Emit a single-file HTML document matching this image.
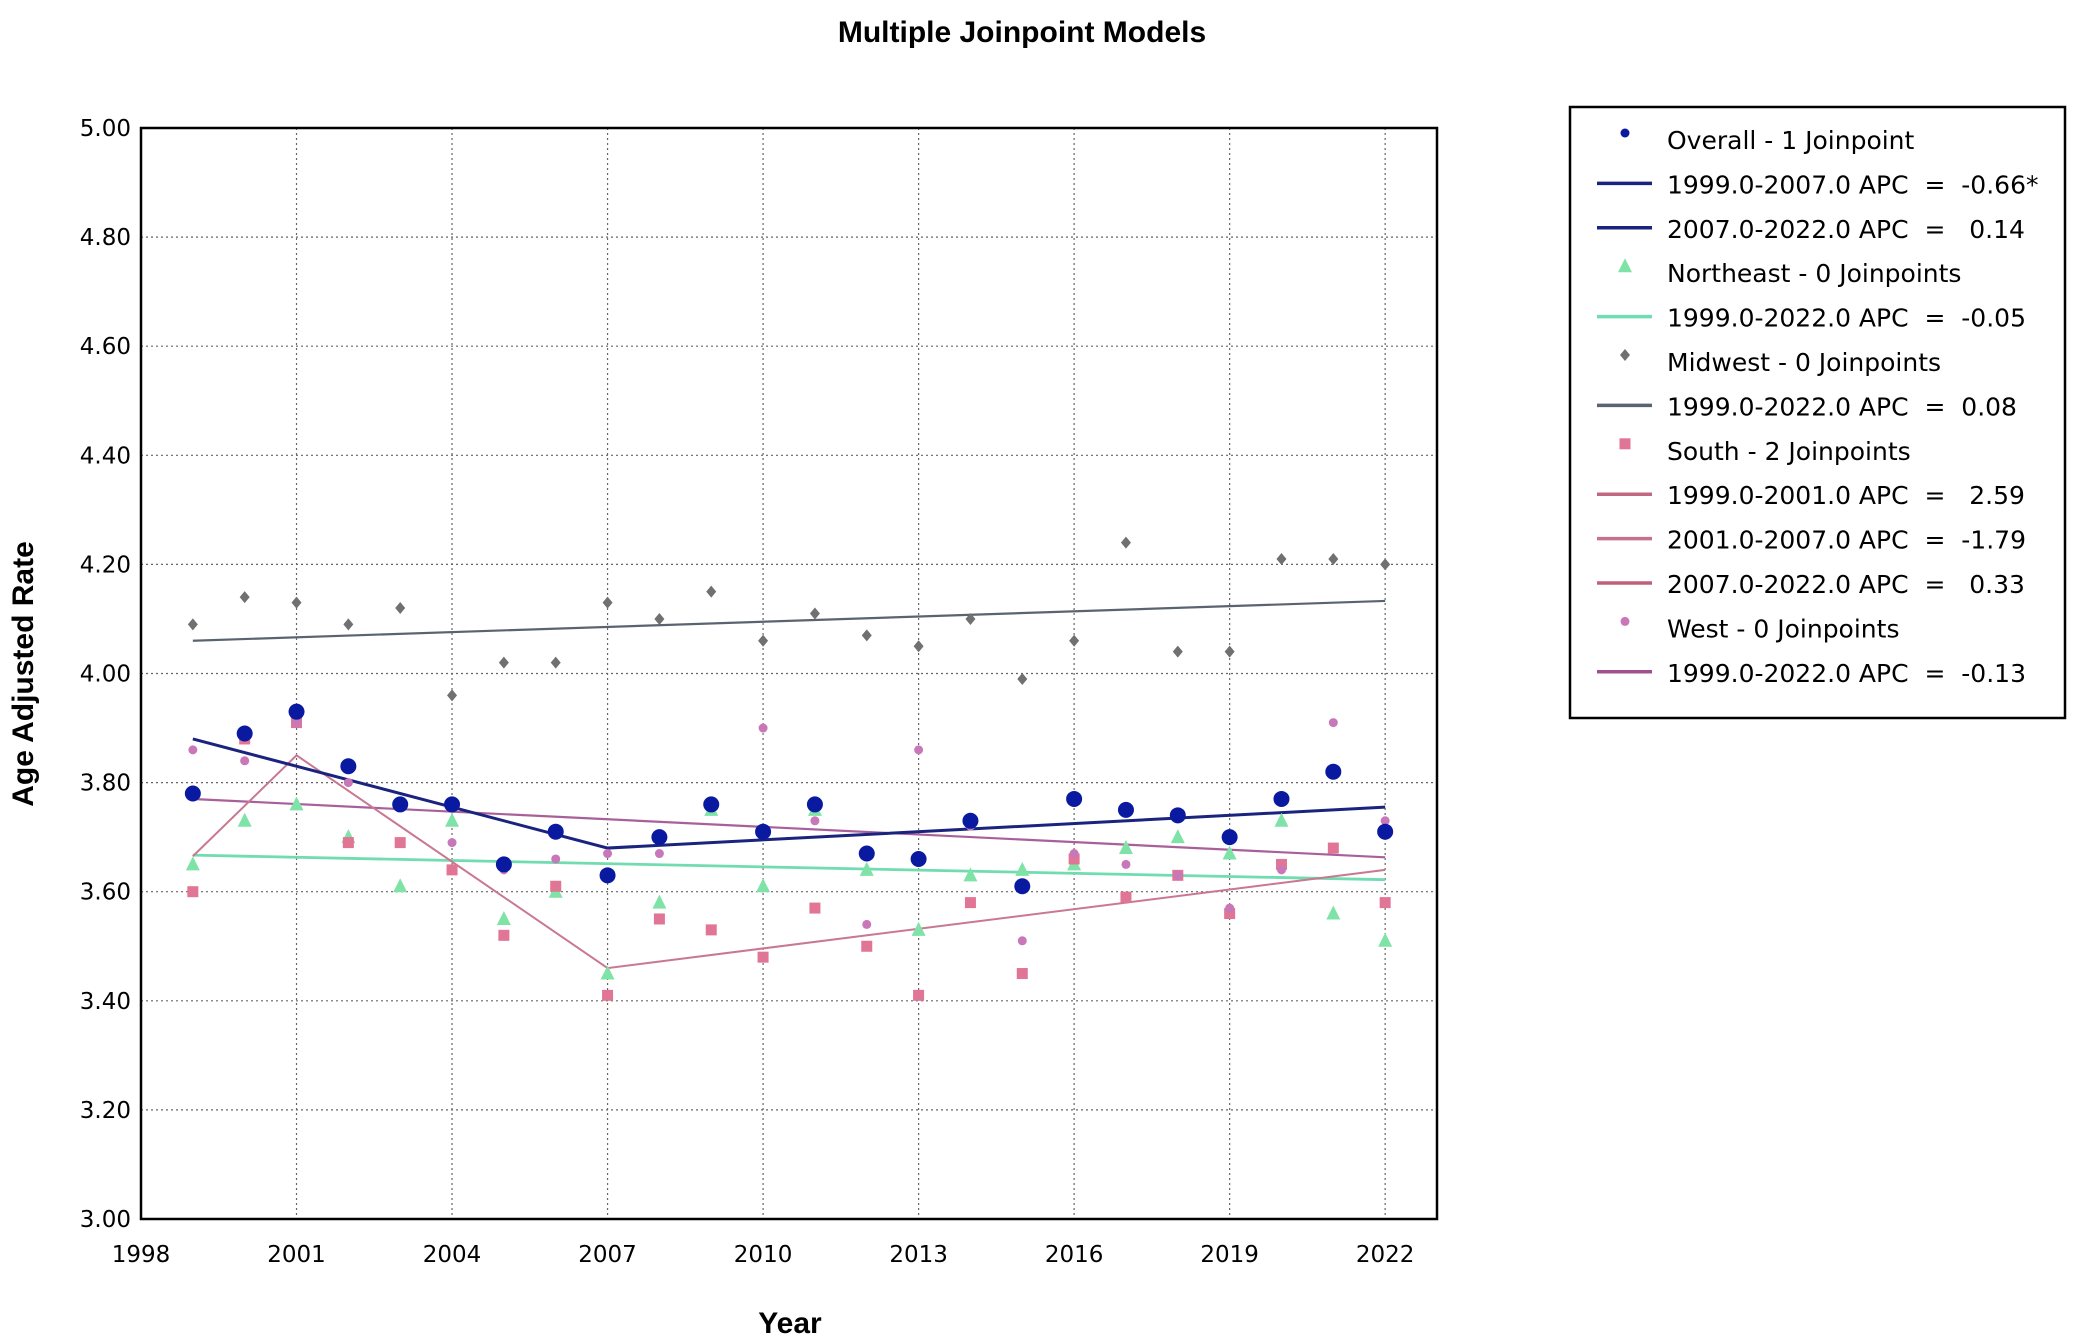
<!DOCTYPE html>
<html><head><meta charset="utf-8"><style>
body{margin:0;background:#fff;}
svg{display:block;font-family:"DejaVu Sans","Liberation Sans",sans-serif;}
#legend text{white-space:pre;}
</style></head><body>
<svg id="chart" width="2073" height="1342" xmlns="http://www.w3.org/2000/svg">
<text x="1022" y="42" text-anchor="middle" font-size="30" font-weight="bold" font-family="Liberation Sans, sans-serif">Multiple Joinpoint Models</text>
<g id="grid"></g>
<g id="axes"></g>
<g id="lines"></g>
<g id="marks"></g>
<rect x="141" y="128" width="1296" height="1091" fill="none" stroke="#000" stroke-width="2.5"/>
<text transform="translate(33,674) rotate(-90)" text-anchor="middle" font-size="30" font-weight="bold" font-family="Liberation Sans, sans-serif">Age Adjusted Rate</text>
<text x="790" y="1333" text-anchor="middle" font-size="30" font-weight="bold" font-family="Liberation Sans, sans-serif">Year</text>
<rect x="1570" y="107" width="495" height="611" fill="#fff" stroke="#000" stroke-width="2.5"/>
<g id="legend"></g>
</svg>
<script>
const years=[1999,2000,2001,2002,2003,2004,2005,2006,2007,2008,2009,2010,2011,2012,2013,2014,2015,2016,2017,2018,2019,2020,2021,2022];
const overall=[3.78,3.89,3.93,3.83,3.76,3.76,3.65,3.71,3.63,3.70,3.76,3.71,3.76,3.67,3.66,3.73,3.61,3.77,3.75,3.74,3.70,3.77,3.82,3.71];
const northeast=[3.65,3.73,3.76,3.70,3.61,3.73,3.55,3.60,3.45,3.58,3.75,3.61,3.75,3.64,3.53,3.63,3.64,3.65,3.68,3.70,3.67,3.73,3.56,3.51];
const midwest=[4.09,4.14,4.13,4.09,4.12,3.96,4.02,4.02,4.13,4.10,4.15,4.06,4.11,4.07,4.05,4.10,3.99,4.06,4.24,4.04,4.04,4.21,4.21,4.20];
const south=[3.60,3.88,3.91,3.69,3.69,3.64,3.52,3.61,3.41,3.55,3.53,3.48,3.57,3.50,3.41,3.58,3.45,3.66,3.59,3.63,3.56,3.65,3.68,3.58];
const west=[3.86,3.84,3.91,3.80,3.76,3.69,3.64,3.66,3.67,3.67,3.76,3.90,3.73,3.54,3.86,3.72,3.51,3.67,3.65,3.63,3.57,3.64,3.91,3.73];
const overallFitX=[1999,2007,2022], overallFitY=[3.88,3.68,3.755];
const neFitX=[1999,2022], neFitY=[3.667,3.622];
const mwFitX=[1999,2022], mwFitY=[4.06,4.133];
const southFitX=[1999,2001,2007,2022], southFitY=[3.665,3.85,3.46,3.64];
const westFitX=[1999,2022], westFitY=[3.77,3.663];
const xTicks=[1998,2001,2004,2007,2010,2013,2016,2019,2022];
const yTicks=[3.00,3.20,3.40,3.60,3.80,4.00,4.20,4.40,4.60,4.80,5.00];
const legendLabels=["Overall - 1 Joinpoint","1999.0-2007.0 APC  =  -0.66*","2007.0-2022.0 APC  =   0.14","Northeast - 0 Joinpoints","1999.0-2022.0 APC  =  -0.05","Midwest - 0 Joinpoints","1999.0-2022.0 APC  =  0.08","South - 2 Joinpoints","1999.0-2001.0 APC  =   2.59","2001.0-2007.0 APC  =  -1.79","2007.0-2022.0 APC  =   0.33","West - 0 Joinpoints","1999.0-2022.0 APC  =  -0.13"];

const L=141,R=1437,T=128,B=1219;
const xs=v=>L+(v-1998)/(2023-1998)*(R-L);
const ys=v=>B-(v-3)/2*(B-T);
const NS="http://www.w3.org/2000/svg";
function mk(tag,attrs,parent){const e=document.createElementNS(NS,tag);for(const k in attrs)e.setAttribute(k,attrs[k]);document.getElementById(parent).appendChild(e);return e;}

xTicks.forEach(t=>{
  const x=xs(t);
  if(t>1998){const g=mk('line',{x1:x,x2:x,y1:T,y2:B,stroke:'#666','stroke-width':1.2,'stroke-dasharray':'2,3'},'grid');
  
  }
  const tx=mk('text',{x:x,y:B+43,'text-anchor':'middle','font-size':23},'axes');tx.textContent=t;
  
  
});
yTicks.forEach(t=>{
  const y=ys(t);
  if(t>3&&t<5){const g=mk('line',{x1:L,x2:R,y1:y,y2:y,stroke:'#666','stroke-width':1.2,'stroke-dasharray':'2,3'},'grid');
  
  }
  const tx=mk('text',{x:L-10,y:y+8,'text-anchor':'end','font-size':23},'axes');tx.textContent=t.toFixed(2);
  
  
});

function fit(xa,ya,color,w,name){
  const p=mk('polyline',{points:xa.map((x,i)=>xs(x)+','+ys(ya[i])).join(' '),fill:'none',stroke:color,'stroke-width':w},'lines');
  
  
}
fit(mwFitX,mwFitY,'#5a6470',2.2,'midwest-fit-line');
fit(neFitX,neFitY,'#70dcb0',2.8,'northeast-fit-line');
fit(westFitX,westFitY,'#a8609a',2.2,'west-fit-line');
fit(southFitX,southFitY,'#c87890',2,'south-fit-line');
fit(overallFitX,overallFitY,'#1a237e',3,'overall-fit-line');

function marker(type,x,y,color,parent){
  let e;
  if(type==='circle')e=mk('circle',{cx:x,cy:y,r:8,fill:color},parent);
  else if(type==='small')e=mk('circle',{cx:x,cy:y,r:4.5,fill:color},parent);
  else if(type==='tri')e=mk('polygon',{points:`${x},${y-8} ${x-7},${y+6} ${x+7},${y+6}`,fill:color},parent);
  else if(type==='diamond')e=mk('polygon',{points:`${x},${y-6} ${x-5},${y} ${x},${y+6} ${x+5},${y}`,fill:color},parent);
  else e=mk('rect',{x:x-5.5,y:y-5.5,width:11,height:11,fill:color},parent);
  return e;
}
const series=[[midwest,'diamond','#707070','midwest-point'],[northeast,'tri','#7fe3a8','northeast-point'],[south,'square','#e07595','south-point'],[west,'small','#c878b8','west-point'],[overall,'circle','#0a1aa0','overall-point']];
series.forEach(([arr,type,color,name])=>{
  arr.forEach((v,i)=>{
    const e=marker(type,xs(years[i]),ys(v),color,'marks');
    
    
  });
});

const legendKinds=[['circle','#0a1aa0'],['line','#1a237e'],['line','#1a237e'],['tri','#7fe3a8'],['line','#70dcb0'],['diamond','#707070'],['line','#5a6470'],['square','#e07595'],['line','#c06880'],['line','#c87090'],['line','#c06078'],['small','#c878b8'],['line','#a05090']];
legendLabels.forEach((lab,i)=>{
  const y=139+i*44.4;
  const [k,c]=legendKinds[i];
  let e;
  if(k==='line')e=mk('line',{x1:1597,x2:1652,y1:y,y2:y,stroke:c,'stroke-width':3.5},'legend');
  else e=marker(k==='circle'?'small':k,1625,y-6,c,'legend');
  
  
  const t=mk('text',{x:1667,y:y+10,'font-size':25,'textLength':null},'legend');
  t.removeAttribute('textLength');
  t.textContent=lab;
  
  
});
</script>
</body></html>
